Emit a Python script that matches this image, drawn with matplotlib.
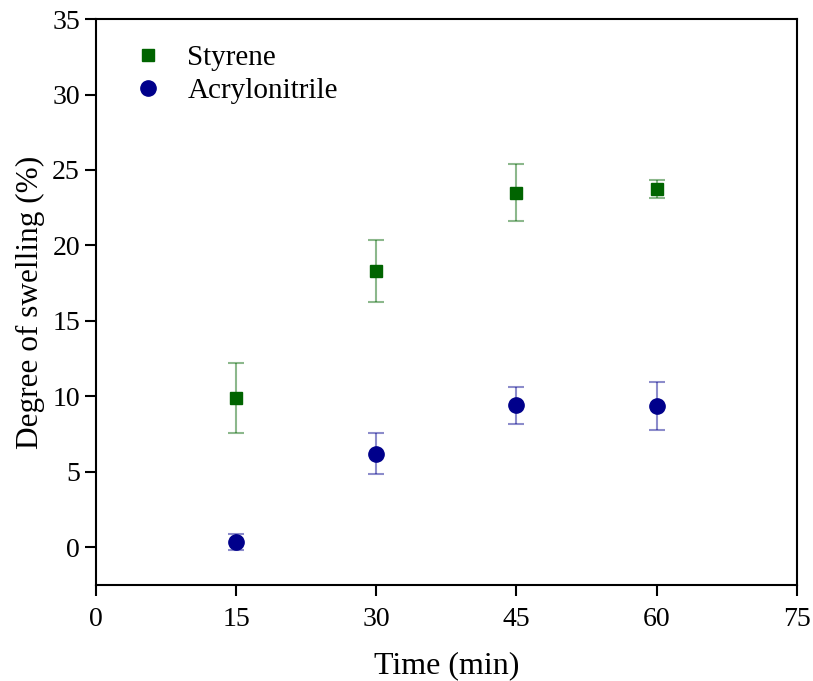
import matplotlib.pyplot as plt
import numpy as np

plt.rcParams['font.family'] = ['Liberation Serif', 'DejaVu Serif']

time = [15, 30, 45, 60]
styrene = [9.9, 18.3, 23.5, 23.75]
styrene_err = [2.3, 2.05, 1.9, 0.6]
acn = [0.35, 6.2, 9.4, 9.35]
acn_err = [0.55, 1.35, 1.25, 1.6]

fig = plt.figure(figsize=(8.13, 6.81), dpi=100)
ax = fig.add_axes([0.118, 0.141, 0.862, 0.831])

green = '#006400'
blue = '#00008B'

ax.errorbar(time, styrene, yerr=styrene_err, fmt='s', color=green, ms=9,
            ecolor=(0.0, 0.39, 0.0, 0.45), elinewidth=1.5, capsize=6, capthick=1.5,
            label='Styrene')
ax.errorbar(time, acn, yerr=acn_err, fmt='o', color=blue, ms=11,
            ecolor=(0.0, 0.0, 0.55, 0.45), elinewidth=1.5, capsize=6, capthick=1.5,
            label='Acrylonitrile')

ax.set_xlim(0, 75)
ax.set_ylim(-2.5, 35)
ax.set_xticks(np.arange(0, 76, 15))
ax.set_yticks(np.arange(0, 36, 5))
ax.tick_params(direction='out', length=8, width=1.5, labelsize=20)
ax.tick_params(axis='x', pad=8)
for s in ax.spines.values():
    s.set_linewidth(1.5)

ax.set_xlabel('Time (min)', fontsize=23, labelpad=14)
ax.set_ylabel('Degree of swelling (%)', fontsize=22.5, labelpad=5)

handles, labels = ax.get_legend_handles_labels()
handles = [h[0] for h in handles]
ax.legend(handles, labels, loc='upper left', frameon=False, fontsize=21,
          handletextpad=0.35, borderaxespad=0, labelspacing=0.22,
          bbox_to_anchor=(0.016, 0.975))

fig.savefig('out.png', dpi=100)
